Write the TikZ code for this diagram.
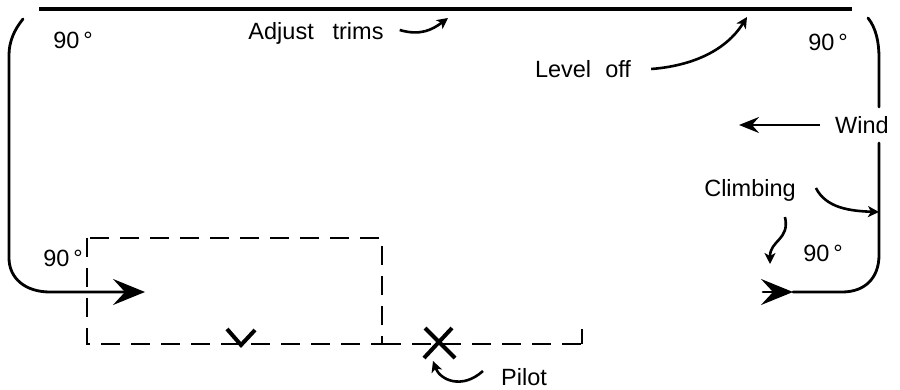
\documentclass[tikz,border=0pt]{standalone}
\usepackage{fontspec}
\setmainfont{Liberation Sans}
\usetikzlibrary{arrows.meta}
\begin{document}
\begin{tikzpicture}[x=1pt,y=-1pt,
  lbl/.style={font=\fontsize{23.5}{28}\selectfont, inner sep=0pt},
  flight/.style={line width=2.8pt, line cap=round},
  bigtip/.style={-{Stealth[length=32pt,width=26pt,inset=12pt]}},
  pointer/.style={line width=2.6pt, -{Stealth[length=11pt,width=11pt,inset=3pt]}},
  dashline/.style={line width=2.4pt, dash pattern=on 19pt off 11pt},
  xmark/.style={line width=4pt}
]
\useasboundingbox (0,0) rectangle (900,390);

% top bar
\coordinate (barL) at (39,9);
\coordinate (barR) at (852,9);
\draw[line width=4pt] (barL) -- (barR);

% left flight path
\coordinate (lTop) at (23,19);
\coordinate (lV1) at (9,55);
\coordinate (lV2) at (9,258);
\coordinate (lH) at (50,292);
\coordinate (lTip) at (145,292);
\draw[flight, bigtip] (lTop) .. controls (14,30) and (9,42) .. (lV1) -- (lV2)
  .. controls (9,278) and (25,292) .. (lH) -- (lTip);

% right flight path
\coordinate (rTop) at (868,18);
\coordinate (rV1) at (879,58);
\coordinate (rV2) at (879,107);
\coordinate (rV3) at (879,143);
\coordinate (rV4) at (879,255);
\coordinate (rH) at (842,292);
\coordinate (rEnd) at (793,292);
\coordinate (rTail) at (763,292);
\draw[flight] (rTop) .. controls (876,28) and (879,42) .. (rV1) -- (rV2);
\draw[flight] (rV3) -- (rV4) .. controls (879,278) and (865,292) .. (rH) -- (rEnd);
\draw[flight, bigtip] (rTail) -- (rEnd);

% dashed rectangle and line
\coordinate (dTL) at (87,238);
\coordinate (dBR) at (382,344);
\coordinate (dEnd) at (582,344);
\coordinate (dTick) at (582,329);
\draw[dashline] (dTL) rectangle (dBR);
\draw[dashline] (dBR) -- (dEnd);
\draw[line width=2.4pt] (dEnd) -- (dTick);

% V mark
\coordinate (vA) at (227,329);
\coordinate (vB) at (241,345);
\coordinate (vC) at (255,330);
\draw[xmark] (vA) -- (vB) -- (vC);

% pilot X
\coordinate (xA) at (425,328);
\coordinate (xB) at (455,358);
\coordinate (xC) at (452,328);
\coordinate (xD) at (424,358);
\draw[xmark] (xA) -- (xB);
\draw[xmark] (xC) -- (xD);

% labels
\node[lbl] (d1) at (73,40) {90\,°};
\node[lbl] (d2) at (828,42) {90\,°};
\node[lbl] (d3) at (63,258) {90\,°};
\node[lbl] (d4) at (823,253) {90\,°};
\node[lbl] (adj) at (316,33) {Adjust\hspace{0.8em}trims};
\node[lbl] (lev) at (583,69) {Level\hspace{0.6em}off};
\node[lbl] (wind) at (862,125) {Wind};
\node[lbl] (climb) at (750,190) {Climbing};
\node[lbl] (pilot) at (524,377) {Pilot};

% pointers
\coordinate (adjTip) at (448,18);
\coordinate (levTip) at (747,17);
\coordinate (windTip) at (739,125);
\coordinate (climbTip1) at (879,212);
\coordinate (climbTip2) at (770,264);
\coordinate (pilotTip) at (433,361);
\draw[pointer] ([xshift=16pt,yshift=3pt]adj.east) .. controls (420,36) and (432,30) .. (adjTip);
\draw[pointer] ([xshift=20pt]lev.east) .. controls (690,66) and (725,52) .. (levTip);
\draw[line width=2.6pt, -{Stealth[length=20pt,width=16pt,inset=7pt]}] ([xshift=-15pt]wind.west) -- (windTip);
\draw[pointer] ([xshift=20pt,yshift=2pt]climb.east) .. controls (826,208) and (850,211) .. (climbTip1);
\draw[pointer] (785,217) .. controls (790,240) and (770,240) .. (climbTip2);
\draw[pointer] ([xshift=-18pt,yshift=6pt]pilot.west) .. controls (462,390) and (440,380) .. (pilotTip);
\end{tikzpicture}
\end{document}
